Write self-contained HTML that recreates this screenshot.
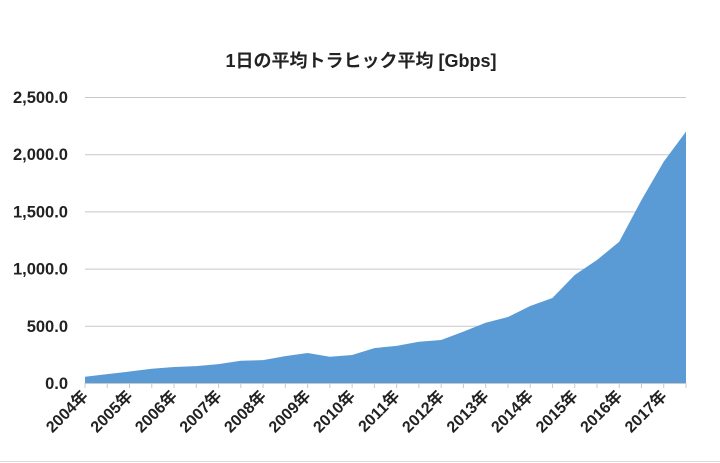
<!DOCTYPE html>
<html><head><meta charset="utf-8"><style>
html,body{margin:0;padding:0;background:#fff;}
svg{display:block;font-family:"Liberation Sans","Noto Sans CJK JP",sans-serif;}
</style></head><body>
<svg id="chart" width="720" height="463" viewBox="0 0 720 463">
<text x="361" y="67" text-anchor="middle" font-size="18" font-weight="bold" fill="#222">1日の平均トラヒック平均 [Gbps]</text>
<g id="grid"></g><g id="area"></g><g id="xaxis"></g><g id="yaxis"></g>
<line x1="0" y1="461.5" x2="720" y2="461.5" stroke="#d9d9d9"/>
</svg>
<script>
const years = ["2004年","2005年","2006年","2007年","2008年","2009年","2010年","2011年","2012年","2013年","2014年","2015年","2016年","2017年"];
const values = [55,78,100,125,140,148,165,195,200,235,262,230,245,305,325,361,376,449,527,577,673,743,944,1075,1235,1600,1935,2197];
const yTicks = [0,500,1000,1500,2000,2500];
const yTickLabels = ["0.0","500.0","1,000.0","1,500.0","2,000.0","2,500.0"];
const NS="http://www.w3.org/2000/svg";
const x0=85,x1=686,y0=383,yTop=97,yMax=2500;
const xs=i=>x0+(x1-x0)*i/(values.length-1);
const ys=v=>y0-(y0-yTop)*v/yMax;
function mk(t,p,a){const e=document.createElementNS(NS,t);for(const k in a)e.setAttribute(k,a[k]);p.appendChild(e);return e;}
const grid=document.getElementById('grid'),yaxis=document.getElementById('yaxis'),xaxis=document.getElementById('xaxis'),area=document.getElementById('area');
yTicks.forEach((v,i)=>{
  if(v>0){const l=mk('line',grid,{x1:x0,x2:x1,y1:ys(v)+0.5,y2:ys(v)+0.5,stroke:'#c8c8c8'});
  
  }
  const t=mk('text',yaxis,{x:68,y:ys(v)+6,'text-anchor':'end','font-size':'16.5','font-weight':'bold',fill:'#222'});
  t.textContent=yTickLabels[i];
  
  
});
let d='M'+xs(0)+','+y0;
values.forEach((v,i)=>{d+=' L'+xs(i)+','+ys(v);});
d+=' L'+xs(values.length-1)+','+y0+' Z';
const p=mk('path',area,{d:d,fill:'#5b9bd5'});


const ax=mk('line',xaxis,{x1:x0,x2:x1,y1:y0+0.5,y2:y0+0.5,stroke:'#c8c8c8'});


values.forEach((v,i)=>{
  const tk=mk('line',xaxis,{x1:xs(i),x2:xs(i),y1:y0,y2:y0+5,stroke:'#c8c8c8'});
  
  
});
years.forEach((y,i)=>{
  const x=xs(i*2);
  const t=mk('text',xaxis,{x:x+4,y:y0+14,'text-anchor':'end','font-size':'16','font-weight':'bold',fill:'#222',transform:'rotate(-45 '+(x+4)+' '+(y0+14)+')'});
  t.textContent=y;
  
  
});
</script>
</body></html>
